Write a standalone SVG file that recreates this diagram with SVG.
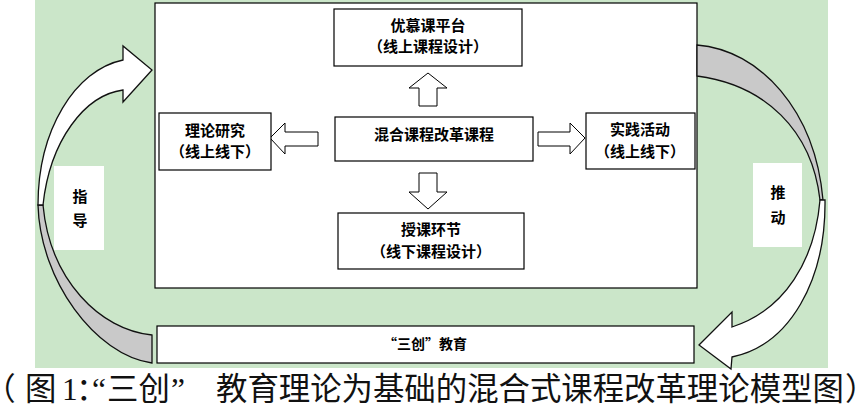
<svg xmlns="http://www.w3.org/2000/svg" width="861" height="409" viewBox="0 0 861 409">
<style>
.box{fill:#fff;stroke:#000;stroke-width:1.2}
.blk{fill:#fff;stroke:#000;stroke-width:1}
.lbl{font-family:"Noto Sans CJK SC","Noto Sans CJK JP",sans-serif;font-size:15px;font-weight:bold;fill:#000;text-anchor:middle}
.cap{font-family:"Noto Sans CJK SC",sans-serif;font-size:31.4px;fill:#111;font-feature-settings:"halt"}
.capl{font-family:"Liberation Serif",serif;font-size:31.4px;fill:#111}
.band{fill:#c9c9c9;stroke:#111;stroke-width:1.3}
.front{fill:#fff;stroke:#111;stroke-width:1.3}
</style>
<rect x="0" y="0" width="861" height="409" fill="#fff"/>
<rect x="35" y="0" width="793" height="368" fill="#cbe6c9"/>
<g id="main-frame"><rect class="box" x="155" y="3" width="542" height="285"/></g>
<g id="connectors">
  <polygon class="blk" points="419,106 419,88 409,88 428,73 447,88 437,88 437,106"/>
  <polygon class="blk" points="419,173 419,192 409,192 428,209 447,192 437,192 437,173"/>
  <polygon class="blk" points="318,132 285,132 285,123 270,138 285,154 285,146 318,146"/>
  <polygon class="blk" points="538,132 570,132 570,123 585,138 570,154 570,146 538,146"/>
  <g id="arrow-guide">
    <path class="band" d="M38,205 C40,280 95,355 152,363 L152,335 C100,330 50,280 43,205 Z"/>
    <path class="front" d="M38,205 C38,130 75,70 123,60 L123,46 L152,70 L123,102 L123,90 C85,95 50,140 43,205 Z"/>
  </g>
  <g id="arrow-push">
    <path class="band" d="M697,45 C760,50 815,110 823,200 L820,200 C812,130 765,85 697,76 Z"/>
    <path class="front" d="M825,200 C826,280 790,345 732,357 L731,369 L699,345 L732,312 L732,327 C785,310 815,260 820,200 Z"/>
  </g>
</g>
<g id="node-top"><rect class="box" x="334" y="9" width="188" height="57"/>
<text class="lbl" x="428" y="31">优慕课平台</text><text class="lbl" x="428" y="52">（线上课程设计）</text></g>
<g id="node-center"><rect class="box" x="335" y="117" width="198" height="44"/>
<text class="lbl" x="434" y="140">混合课程改革课程</text></g>
<g id="node-left"><rect class="box" x="159" y="113" width="112" height="57"/>
<text class="lbl" x="215" y="136">理论研究</text><text class="lbl" x="215" y="157">（线上线下）</text></g>
<g id="node-right"><rect class="box" x="586" y="113" width="109" height="56"/>
<text class="lbl" x="640" y="135">实践活动</text><text class="lbl" x="640" y="157">（线上线下）</text></g>
<g id="node-bottom"><rect class="box" x="338" y="213" width="186" height="56"/>
<text class="lbl" x="431" y="235">授课环节</text><text class="lbl" x="431" y="257">（线下课程设计）</text></g>
<g id="node-sanchuang"><rect class="box" x="157" y="326" width="537" height="37"/>
<text class="lbl" x="425" y="349" style="font-size:14px">“三创”教育</text></g>
<g id="label-guide"><rect x="54" y="166" width="50" height="84" fill="#fff"/>
<text class="lbl" x="80" y="202">指</text><text class="lbl" x="80" y="226">导</text></g>
<g id="label-push"><rect x="753" y="163" width="49" height="84" fill="#fff"/>
<text class="lbl" x="778" y="198">推</text><text class="lbl" x="778" y="223">动</text></g>
<g id="caption">
<text class="cap" x="0" y="400">（</text>
<text class="cap" x="25" y="400">图</text>
<text class="capl" x="62" y="400">1</text>
<text class="cap" x="76" y="400">：</text>
<text class="capl" x="92" y="400">“</text>
<text class="cap" x="107" y="400">三创</text>
<text class="capl" x="171" y="400">”</text>
<text class="cap" x="216" y="400">教育理论为基础的混合式课程改革理论模型图</text>
<text class="cap" x="845" y="400">）</text>
</g>
</svg>
